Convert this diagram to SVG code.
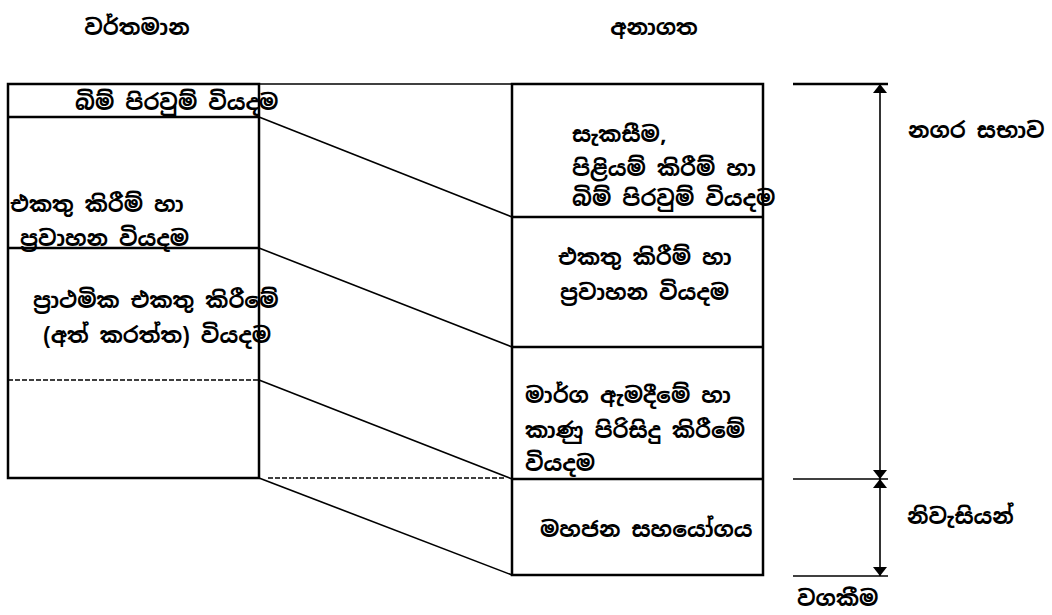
<svg xmlns="http://www.w3.org/2000/svg" width="1052" height="615" viewBox="0 0 1052 615">
<style>
text{font-family:"Noto Sans Sinhala","Noto Sans","Lato",sans-serif;font-size:22px;font-weight:bold;fill:#000;dominant-baseline:central}
.box{fill:none;stroke:#000;stroke-width:2.5}
.ln{stroke:#000;stroke-width:2.5;fill:none}
.thin{stroke:#000;stroke-width:1.6;fill:none}
.dash{stroke:#000;stroke-width:1.6;fill:none;stroke-dasharray:5 2}
</style>
<defs>
<marker id="ah" viewBox="0 0 14 22" refX="14" refY="11" markerWidth="22" markerHeight="14" markerUnits="userSpaceOnUse" orient="auto">
<path d="M0,0 L14,11 L0,22 Z" fill="#000"/>
</marker>
<marker id="ahs" viewBox="0 0 14 22" refX="0" refY="11" markerWidth="22" markerHeight="14" markerUnits="userSpaceOnUse" orient="auto">
<path d="M14,0 L0,11 L14,22 Z" fill="#000"/>
</marker>
</defs>
<g id="titles">
<text x="137" y="27" text-anchor="middle">වර්තමාන</text>
<text x="654" y="27" text-anchor="middle">අනාගත</text>
</g>
<g id="present">
<rect class="box" x="8" y="84" width="251" height="394"/>
<line class="ln" x1="8" y1="117" x2="259" y2="117"/>
<line class="ln" x1="8" y1="248" x2="259" y2="248"/>
<line class="dash" x1="8" y1="380" x2="259" y2="380"/>
<text x="75" y="102">බිම් පිරවුම් වියදම</text>
<text x="10" y="204">එකතු කිරීම් හා</text>
<text x="20" y="238">ප්‍රවාහන වියදම</text>
<text x="33" y="300">ප්‍රාථමික එකතු කිරීමේ</text>
<text x="43" y="335">(අත් කරත්ත) වියදම</text>
</g>
<g id="future">
<rect class="box" x="512" y="84" width="251" height="491"/>
<line class="ln" x1="512" y1="217" x2="763" y2="217"/>
<line class="ln" x1="512" y1="347" x2="763" y2="347"/>
<line class="ln" x1="512" y1="479" x2="763" y2="479"/>
<text x="572" y="134">සැකසීම,</text>
<text x="572" y="168">පිළියම් කිරීම් හා</text>
<text x="572" y="198">බිම් පිරවුම් වියදම</text>
<text x="558" y="257">එකතු කිරීම් හා</text>
<text x="560" y="292">ප්‍රවාහන වියදම</text>
<text x="525" y="395">මාර්ග ඇමදීමේ හා</text>
<text x="525" y="430">කාණු පිරිසිදු කිරීමේ</text>
<text x="525" y="463">වියදම</text>
<text x="540" y="529">මහජන සහයෝගය</text>
</g>
<g id="responsibility">
<line class="ln" x1="793" y1="84" x2="888" y2="84"/>
<line class="thin" x1="793" y1="479" x2="888" y2="479"/>
<line class="thin" x1="793" y1="576" x2="888" y2="576"/>
<line class="thin" x1="880" y1="84" x2="880" y2="479" marker-start="url(#ahs)" marker-end="url(#ah)"/>
<line class="thin" x1="880" y1="479" x2="880" y2="576" marker-start="url(#ahs)" marker-end="url(#ah)"/>
<text x="908" y="130">නගර සභාව</text>
<text x="907" y="516">නිවැසියන්</text>
<text x="797" y="598">වගකීම</text>
</g>
<g id="connectors">
<line class="thin" x1="259" y1="84" x2="512" y2="84"/>
<line class="thin" x1="259" y1="117" x2="512" y2="217"/>
<line class="thin" x1="259" y1="248" x2="512" y2="347"/>
<line class="thin" x1="259" y1="380" x2="512" y2="479"/>
<line class="dash" x1="268" y1="478" x2="505" y2="478"/>
<line class="thin" x1="259" y1="478" x2="512" y2="575"/>
</g>
</svg>
